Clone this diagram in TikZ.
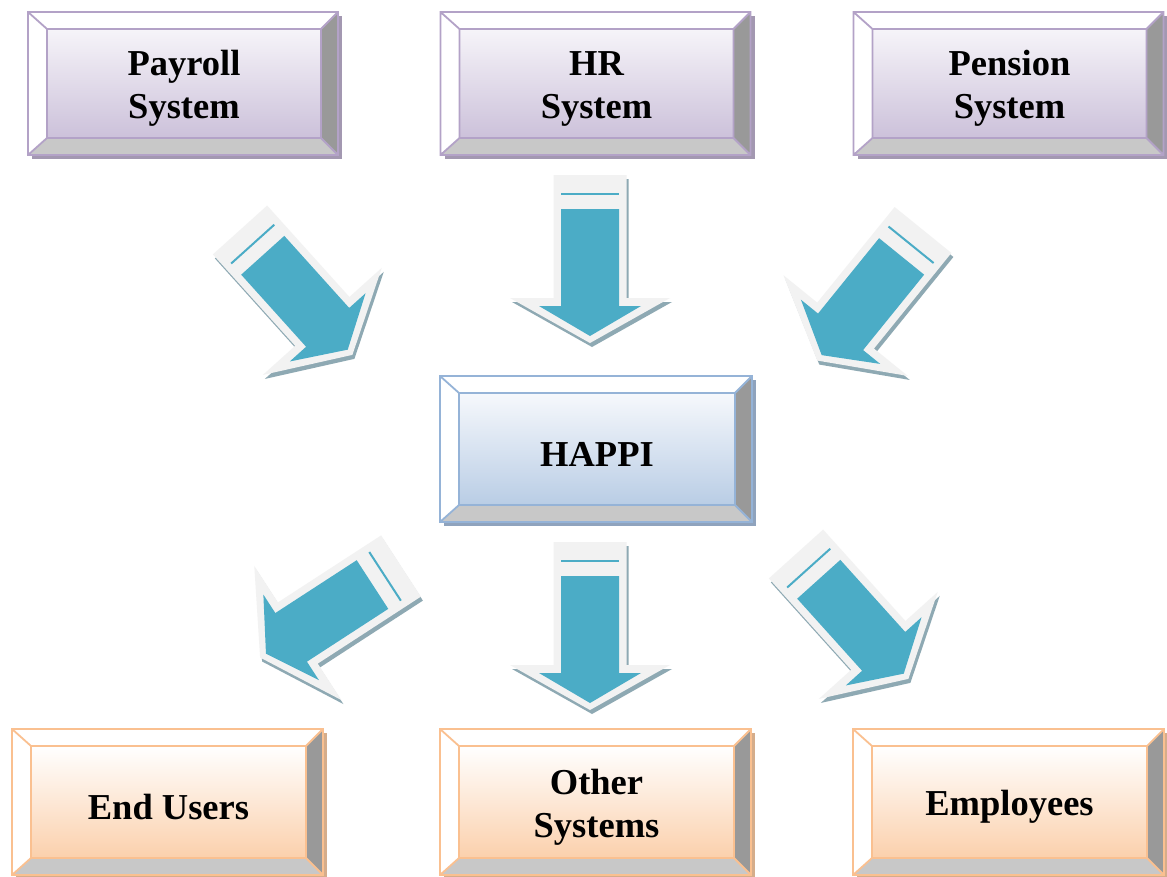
\documentclass[tikz,border=0pt]{standalone}
\usepackage{fontspec}
\setmainfont{Liberation Serif}
\usetikzlibrary{calc}
\definecolor{arrOut}{HTML}{F2F2F2}
\definecolor{arrIn}{HTML}{4BACC6}
\definecolor{arrSh}{HTML}{8EA9B3}
\definecolor{purB}{HTML}{B3A2C7}
\definecolor{purT}{HTML}{F6F4F9}
\definecolor{purL}{HTML}{CCC1DA}
\definecolor{bluB}{HTML}{95B3D7}
\definecolor{bluT}{HTML}{F6F8FC}
\definecolor{bluL}{HTML}{B9CDE5}
\definecolor{orB}{HTML}{FAC090}
\definecolor{orT}{HTML}{FFFFFF}
\definecolor{orL}{HTML}{FBD0AC}
\definecolor{bevR}{HTML}{999999}
\definecolor{bevB}{HTML}{C8C8C8}
\tikzset{
  boxnode/.style={inner sep=0pt, outer sep=0pt, draw=none},
  boxtext/.style={font=\bfseries\fontsize{36.5}{43}\selectfont, align=center, inner sep=0pt, text=black},
  arrowouter/.style={fill=arrOut},
  arrowinner/.style={fill=arrIn},
  arrowshadow/.style={fill=arrSh},
}
\newcommand{\bevbox}[9]{%
  \node[boxnode, minimum width=#4pt, minimum height=#5pt] (#1) at (#2,#3) {};
  \coordinate (#1-o1) at (#1.north west);
  \coordinate (#1-o2) at (#1.north east);
  \coordinate (#1-o3) at (#1.south east);
  \coordinate (#1-o4) at (#1.south west);
  \coordinate (#1-i1) at ($(#1-o1)+(19,17)$);
  \coordinate (#1-i2) at ($(#1-o2)+(-17,17)$);
  \coordinate (#1-i3) at ($(#1-o3)+(-17,-17)$);
  \coordinate (#1-i4) at ($(#1-o4)+(19,-17)$);
  \fill[#6!70!gray] ($(#1-o1)+(4,4)$) rectangle ($(#1-o3)+(4,4)$);
  \fill[white] (#1-o1)--(#1-o2)--(#1-i2)--(#1-i1)--cycle;
  \fill[white] (#1-o1)--(#1-i1)--(#1-i4)--(#1-o4)--cycle;
  \fill[bevR] (#1-o2)--(#1-o3)--(#1-i3)--(#1-i2)--cycle;
  \fill[bevB] (#1-o4)--(#1-i4)--(#1-i3)--(#1-o3)--cycle;
  \shade[top color=#7, bottom color=#8] (#1-i1) rectangle (#1-i3);
  \draw[#6, line width=1.8pt, line join=miter] (#1-o1) rectangle (#1-o3) (#1-i1) rectangle (#1-i3)
     (#1-o1)--(#1-i1) (#1-o2)--(#1-i2) (#1-o3)--(#1-i3) (#1-o4)--(#1-i4);
  \node[boxtext] (#1-t) at ($(#1-i1)!0.5!(#1-i3)+(0,5)$) {#9};
}
\newcommand{\outerpath}{(-36.5,0) -- (36.5,0) -- (36.5,123) -- (80,123) -- (0,168) -- (-80,123) -- (-36.5,123) -- cycle}
\newcommand{\blockarrow}[4]{%
  \coordinate (#1) at (#2,#3);
  \fill[arrowshadow, shift={(#2+2,#3+4)}, rotate=#4] \outerpath;
  \begin{scope}[shift={(#1)}, rotate=#4]
    \fill[arrowouter] \outerpath;
    \fill[arrowinner] (-29,34) -- (29,34) -- (29,131) -- (51,131) -- (0,161) -- (-51,131) -- (-29,131) -- cycle;
    \draw[arrIn, line width=2pt] (-29,19) -- (29,19);
  \end{scope}
}
\begin{document}
\begin{tikzpicture}[x=1pt, y=-1pt]
\useasboundingbox (0,0) rectangle (1167,876);
\fill[white] (0,0) rectangle (1167,876);
% arrows
\blockarrow{a1}{240}{230}{42}
\blockarrow{a2}{590}{175}{0}
\blockarrow{a3}{923}{230}{-39}
\blockarrow{a4}{401}{566}{-57}
\blockarrow{a5}{590}{542}{0}
\blockarrow{a6}{796}{554}{42}
% boxes
\bevbox{payroll}{183}{83.5}{310}{143}{purB}{purT}{purL}{Payroll\\System}
\bevbox{hr}{595.5}{83.5}{310}{143}{purB}{purT}{purL}{HR\\System}
\bevbox{pension}{1008.5}{83.5}{310}{143}{purB}{purT}{purL}{Pension\\System}
\bevbox{happi}{596}{449}{312}{146}{bluB}{bluT}{bluL}{HAPPI}
\bevbox{endusers}{167.5}{802}{311}{146}{orB}{orT}{orL}{End Users}
\bevbox{other}{595.5}{802}{311}{146}{orB}{orT}{orL}{Other\\Systems}
\bevbox{employees}{1008.5}{802}{311}{146}{orB}{orT}{orL}{Employees}
\end{tikzpicture}
\end{document}
